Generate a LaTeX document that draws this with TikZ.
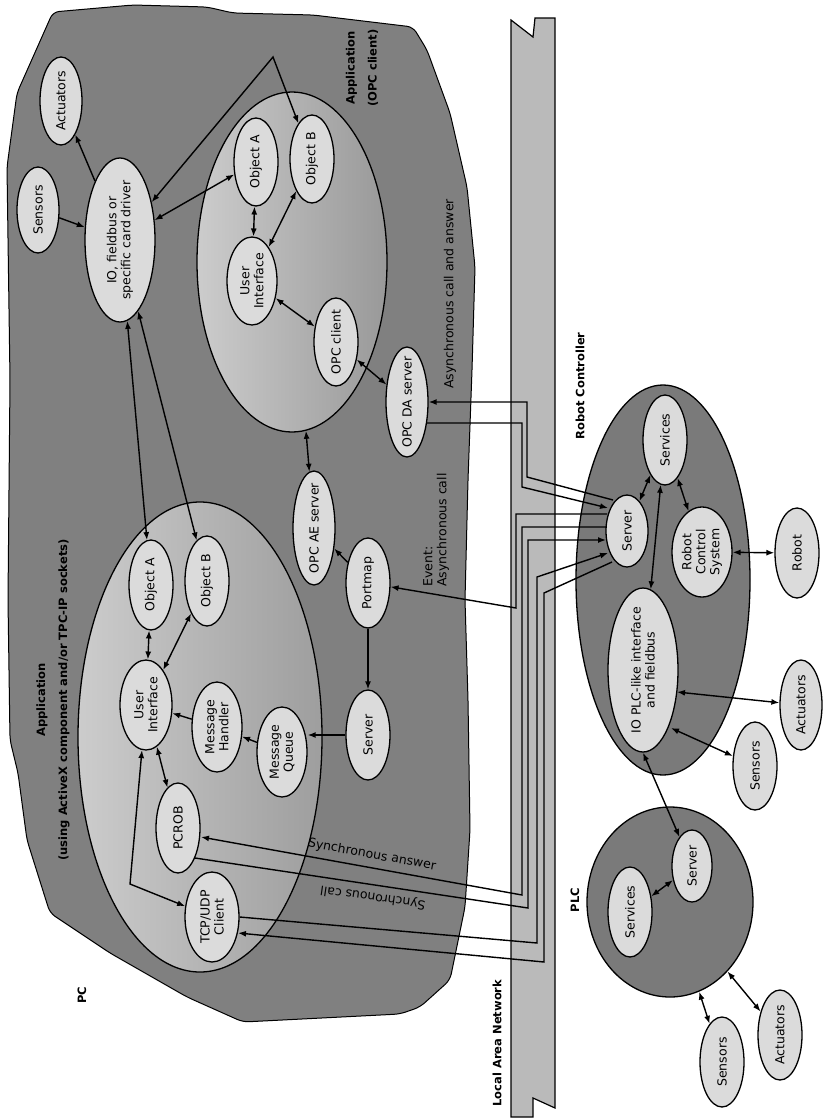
\documentclass[tikz,border=0pt]{standalone}
\usepackage{fontspec}
\setmainfont{DejaVu Sans}
\usetikzlibrary{shapes.geometric, arrows.meta, calc}

\begin{document}
\begin{tikzpicture}[
        x=1pt, y=-1pt,
        font=\fontsize{12.5}{14}\selectfont,
        comp/.style={draw, ellipse, line width=1.3pt, fill=black!14, rotate=90, align=center,
            inner sep=-10pt, minimum width=90pt, minimum height=44pt},
        area/.style={draw, ellipse, line width=1.3pt, inner sep=0pt},
        arr/.style={->, >={Latex[length=8pt, width=6pt]}, line width=1.4pt},
        darr/.style={<->, >={Latex[length=8pt, width=6pt]}, line width=1.4pt},
        title/.style={font=\fontsize{11.5}{22}\selectfont\bfseries, rotate=90, align=center}
    ]
    \useasboundingbox (0,0) rectangle (823,1119);

    % PC and the network
    \draw[line width=1pt, fill=black!50, rounded corners=6pt]
        (17,93) -- (53,12) -- (133,5) -- (207,7) -- (233,13) -- (313,15) -- (413,27)
        -- (427,50) -- (450,113) -- (467,187) -- (475,267) -- (472,370) -- (468,480)
        -- (465,600) -- (468,700) -- (470,830) -- (465,907) -- (450,980) -- (420,1007)
        -- (400,1014) -- (243,1022) -- (187,997) -- (110,953) -- (50,913) -- (27,840)
        -- (18,773) -- (10,740) -- (8,600) -- (10,380) -- (7,167) -- cycle;
    \draw[line width=1.2pt, fill=black!27]
        (511,20) -- (533,37) -- (535,18) -- (555,18) -- (555,1108) -- (533,1098)
        -- (533,1117) -- (511,1117) -- cycle;

    \node[area, left color=black!20, right color=black!40, minimum width=190pt, minimum height=340pt] (app1) at (292,262) {};
    \node[area, left color=black!20, right color=black!38, minimum width=244pt, minimum height=470pt] (app2) at (200,737) {};
    \node[area, fill=black!52, minimum width=174pt, minimum height=390pt] (rc) at (663,580) {};
    \node[area, fill=black!52, minimum width=166pt, minimum height=190pt] (plc) at (670,902) {};

    % PC side
    \node[comp, minimum width=88pt, minimum height=42pt] (act1) at (61,101) {Actuators};
    \node[comp, minimum width=86pt, minimum height=42pt] (sens1) at (38,210) {Sensors};
    \node[comp, minimum width=164pt, minimum height=70pt] (io) at (120,240) {IO, fieldbus or\\specific card driver};
    \node[comp, minimum width=88pt] (objA1) at (256,162) {Object A};
    \node[comp, minimum width=88pt] (objB1) at (312,159) {Object B};
    \node[comp, minimum width=88pt, minimum height=50pt] (ui1) at (252,281) {User\\Interface};
    \node[comp, minimum width=88pt] (opccl) at (336,342) {OPC client};
    \node[comp, minimum width=110pt, minimum height=42pt] (dasrv) at (407,402) {OPC DA server};
    \node[comp, minimum width=114pt, minimum height=42pt] (aesrv) at (314,528) {OPC AE server};
    \node[comp] (portmap) at (368,583) {Portmap};
    \node[comp] (pcsrv) at (368,735) {Server};
    \node[comp] (objA2) at (151,585) {Object A};
    \node[comp] (objB2) at (207,581) {Object B};
    \node[comp, minimum height=52pt] (ui2) at (146,705) {User\\Interface};
    \node[comp, minimum height=50pt] (msgh) at (217,727) {Message\\Handler};
    \node[comp, minimum height=50pt] (msgq) at (282,752) {Message\\Queue};
    \node[comp] (pcrob) at (178,828) {PCROB};
    \node[comp, minimum height=54pt] (tcp) at (212,917) {TCP/UDP\\Client};

    % robot controller and PLC
    \node[comp] (rcserv) at (665,440) {Services};
    \node[comp, minimum width=72pt, minimum height=42pt] (rcsrv) at (627,531) {Server};
    \node[comp, minimum height=60pt] (rcs) at (702,552) {Robot\\Control\\System};
    \node[comp] (robot) at (797,553) {Robot};
    \node[comp, minimum width=164pt, minimum height=70pt] (rcio) at (643,670) {IO PLC-like interface\\and fieldbus};
    \node[comp, minimum height=42pt] (rcact) at (801,705) {Actuators};
    \node[comp, minimum width=88pt] (rcsens) at (755,766) {Sensors};
    \node[comp, minimum width=72pt, minimum height=40pt] (plcsrv) at (692,866) {Server};
    \node[comp] (plcserv) at (630,912) {Services};
    \node[comp] (plcsens) at (722,1062) {Sensors};
    \node[comp] (plcact) at (780,1035) {Actuators};

    \coordinate (iobend) at (273,57);
    \coordinate (tcpbend) at (130,884);

    \draw[arr] (sens1) -- (io);
    \draw[arr] (io) -- (act1);
    \draw[darr] (io) -- (objA1);
    \draw[darr] (io) -- (iobend) -- (objB1);
    \draw[darr] (objA1) -- (ui1);
    \draw[darr] (objB1) -- (ui1);
    \draw[darr] (ui1) -- (opccl);
    \draw[darr] (opccl) -- (dasrv);
    \draw[darr] (app1) -- (aesrv);
    \draw[arr] (portmap) -- (aesrv);
    \draw[arr] (portmap) -- (pcsrv);
    \draw[arr] (pcsrv.north) -- (pcsrv.north -| msgq.south);
    \draw[arr] (msgq) -- (msgh);
    \draw[arr] (msgh) -- (ui2);
    \draw[darr] (objA2) -- (ui2);
    \draw[darr] (objB2) -- (ui2);
    \draw[darr] (ui2) -- (pcrob);
    \draw[darr] (ui2) -- (tcpbend) -- (tcp);
    \draw[darr] (io) -- (objA2);
    \draw[darr] (io) -- (objB2);

    \draw[darr] (rcsrv) -- (rcserv);
    \draw[darr] (rcserv) -- (rcs);
    \draw[darr] (rcserv) -- (rcio);
    \draw[darr] (rcs) -- (robot);
    \draw[darr] ($(rcio)+(34,22)$) -- (rcact);
    \draw[darr] ($(rcio)+(28,58)$) -- (rcsens);
    \draw[darr] (rcio.west) -- (plcsrv);
    \draw[darr] (plcserv) -- (plcsrv);
    \draw[darr] (plc) -- (plcsens);
    \draw[darr] (plc) -- (plcact);

    % over the network
    \draw[arr] ($(rcsrv)+(-14,-31)$) -- (527,477) |- (dasrv.south);
    \draw[arr] ($(dasrv)+(20,21)$) -| (522,487) -- ($(rcsrv)+(-19,-23)$);
    \draw[arr] ($(rcsrv)+(-20,-17)$) -- (516,514) -- (516,608) -- (portmap);
    \draw[arr] ($(rcsrv)+(-21,-4)$) -| (522,895) -- ($(pcrob)+(23,9)$);
    \draw[arr] ($(pcrob)+(17,30)$) -- (528,908) |- ($(rcsrv)+(-21,9)$);
    \draw[arr] (tcp.south) -- (537,943) -- (537,577) -- ($(rcsrv)+(-19,22)$);
    \draw[arr] ($(rcsrv)+(-15,31)$) -- (544,593) -- (544,962) -- ($(tcp)+(26,16)$);

    % labels
    \node[title] (pclbl) at (82,995) {PC};
    \node[title] (lanlbl) at (497,1043) {Local Area Network};
    \node[title] (rclbl) at (580,386) {Robot Controller};
    \node[title] (plclbl) at (575,900) {PLC};
    \node[title] (app1lbl) at (362,68) {Application\\(OPC client)};
    \node[title] (app2lbl) at (53,700) {Application\\(using ActiveX component and/or TPC-IP sockets)};
    \node[rotate=90, align=left] (evlbl) at (436,530) {Event:\\Asynchronous call};
    \node[rotate=90] (aslbl) at (450,294) {Asynchronous call and answer};
    \node[rotate=-10.4] (salbl) at (372,855) {Synchronous answer};
    \node[rotate=171.8] (sclbl) at (373,897) {Synchronous call};
\end{tikzpicture}
\end{document}
